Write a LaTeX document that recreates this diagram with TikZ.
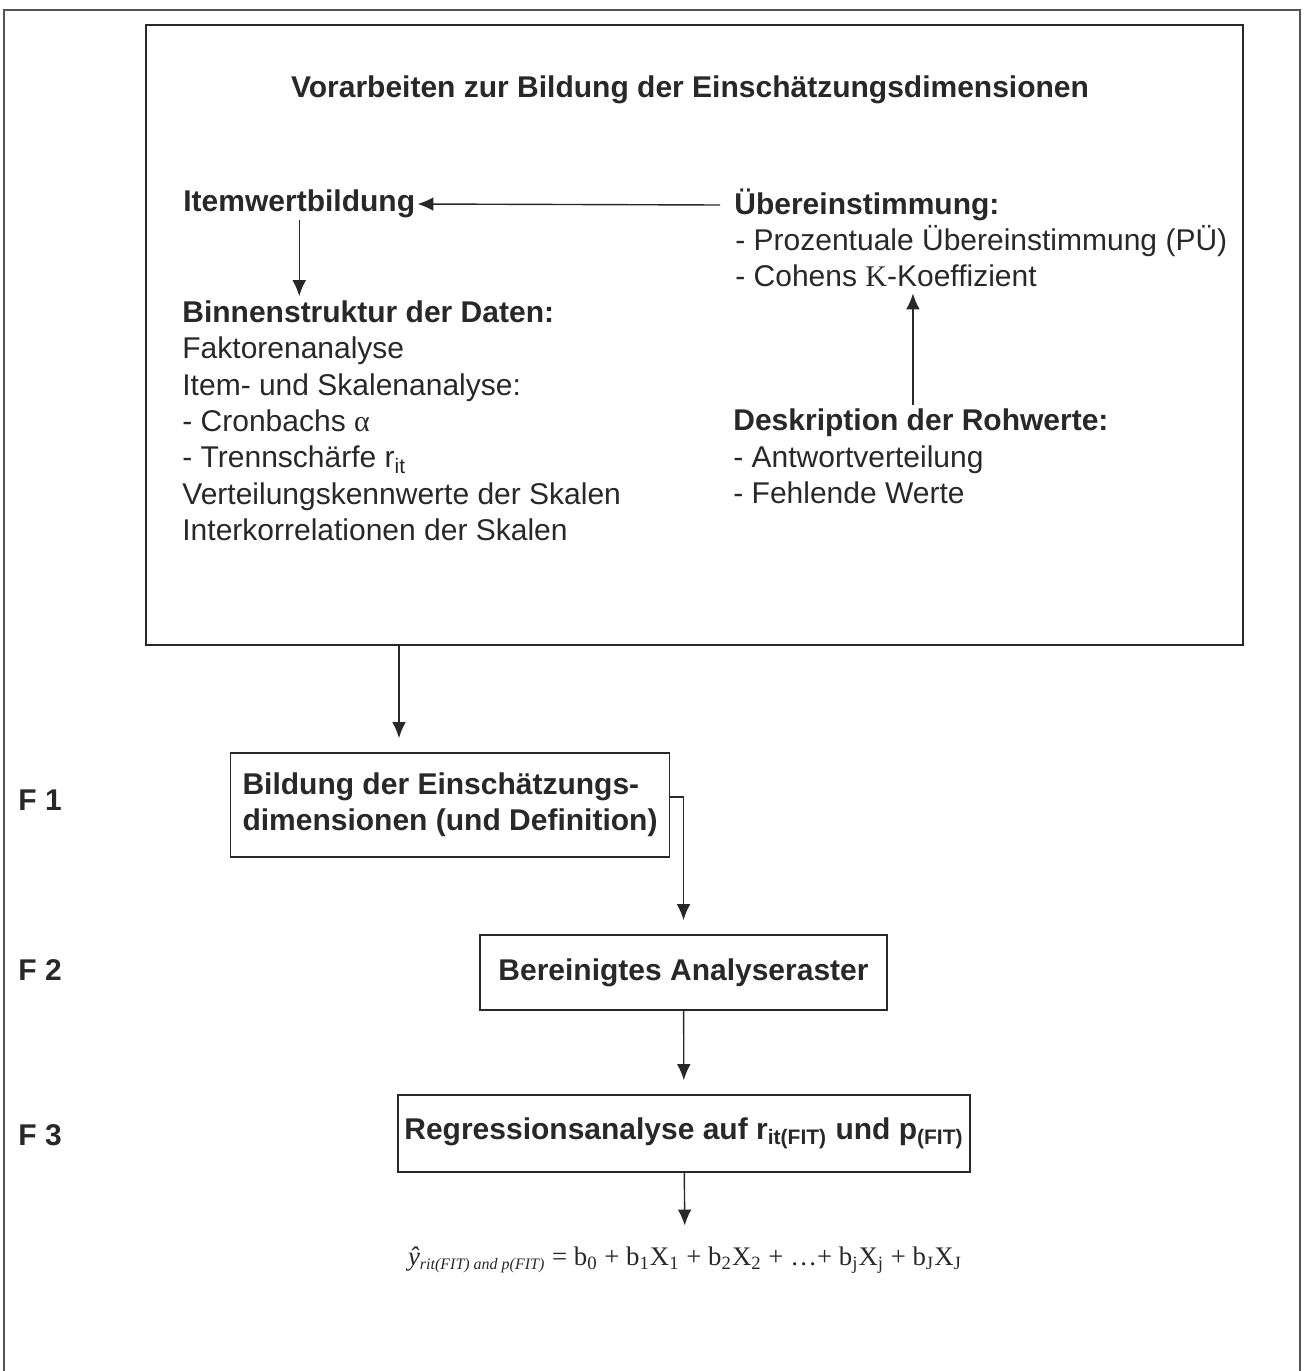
\documentclass[tikz,border=0pt]{standalone}
\usepackage{fontspec}
\setmainfont{Liberation Sans}
\newfontfamily\seriffont{Liberation Serif}
\usetikzlibrary{positioning, arrows.meta}
\definecolor{ink}{RGB}{40,40,40}

\begin{document}
\begin{tikzpicture}[
  x=0.5pt, y=-0.5pt,
  every node/.style={text=ink, font=\fontsize{15}{18.2}\selectfont},
  head/.style={font=\fontsize{15}{18.2}\selectfont\bfseries, inner sep=1pt},
  txt/.style={align=left, inner sep=0pt},
  box/.style={draw=ink, line width=0.9pt, align=left, inner xsep=6pt,
    font=\fontsize{15}{18.2}\selectfont\bfseries},
  arr/.style={-{Latex[length=2.8mm, width=2.4mm]}, draw=ink, line width=0.7pt,
    shorten >=7pt},
  frame/.style={draw=ink!80, line width=0.9pt}
]
  \useasboundingbox (0,0) rectangle (1303,1371);
  \draw[frame] (4,1371) |- (1300,10) -- (1300,1371);

  % preparatory work
  \node[draw=ink, line width=0.9pt, minimum width=548.5pt, minimum height=310pt] (prep) at (694.5,335) {};
  \node[head] (title) at (690,90) {Vorarbeiten zur Bildung der Einschätzungsdimensionen};
  \node[head, anchor=west] (item) at (181,204) {Itemwertbildung};
  \node[head, anchor=west] (ueber) at (732,205) {Übereinstimmung:};
  \node[txt, anchor=base west] (ueberlist) at (735,286.7)
    {- Prozentuale Übereinstimmung (PÜ)\\- Cohens {\seriffont Κ}-Koeffizient};
  \node[txt, anchor=base west] (binnen) at (182,540.7)
    {\textbf{Binnenstruktur der Daten:}\\Faktorenanalyse\\Item- und Skalenanalyse:\\
     - Cronbachs {\seriffont α}\\- Trennschärfe r\textsubscript{it}\\
     Verteilungskennwerte der Skalen\\Interkorrelationen der Skalen};
  \node[txt, anchor=base west] (desk) at (733,503.7)
    {\textbf{Deskription der Rohwerte:}\\- Antwortverteilung\\- Fehlende Werte};

  \draw[arr, shorten >=0pt] ([xshift=-6pt]ueber.west) -- (item.east);
  \draw[arr, shorten >=2pt] (item.south) -- (item.south |- binnen.north);
  \draw[arr, shorten >=3pt] ([xshift=-4pt,yshift=2pt]desk.north) -- ([xshift=-4pt]desk.north |- ueberlist.south);

  % steps F1 to F3
  \node[box, minimum width=219pt, minimum height=52pt] (f1) at (450,805)
    {Bildung der Einschätzungs-\\dimensionen (und Definition)};
  \node[box, minimum width=203.5pt, minimum height=37.5pt, align=center] (f2) at (683.5,972.5)
    {Bereinigtes Analyseraster};
  \node[box, minimum width=284pt, minimum height=38.5pt, inner xsep=3pt, align=center] (f3) at (684,1133.5)
    {Regressionsanalyse auf r\textsubscript{it(FIT)} und p\textsubscript{(FIT)}};
  \node[font=\seriffont\fontsize{13.4}{16}\selectfont] (formula) at (685,1260)
    {\textit{ŷ}\textsubscript{\fontsize{8}{9}\selectfont\textit{rit(FIT) and p(FIT)}} = b\textsubscript{0} + b\textsubscript{1}X\textsubscript{1}
     + b\textsubscript{2}X\textsubscript{2} + …+ b\textsubscript{j}X\textsubscript{j} + b\textsubscript{J}X\textsubscript{J}};

  \node[head, anchor=west] (lab1) at (16,800) {F 1};
  \node[head, anchor=west] (lab2) at (16,970) {F 2};
  \node[head, anchor=west] (lab3) at (16,1135) {F 3};

  \coordinate (drop) at (399,645);
  \draw[arr] (drop) -- (drop |- f1.north);
  \draw[arr] ([yshift=4pt]f1.east) -| (f2.north);
  \draw[arr] (f2) -- (f3);
  \draw[arr] (f3) -- (formula);
\end{tikzpicture}
\end{document}
